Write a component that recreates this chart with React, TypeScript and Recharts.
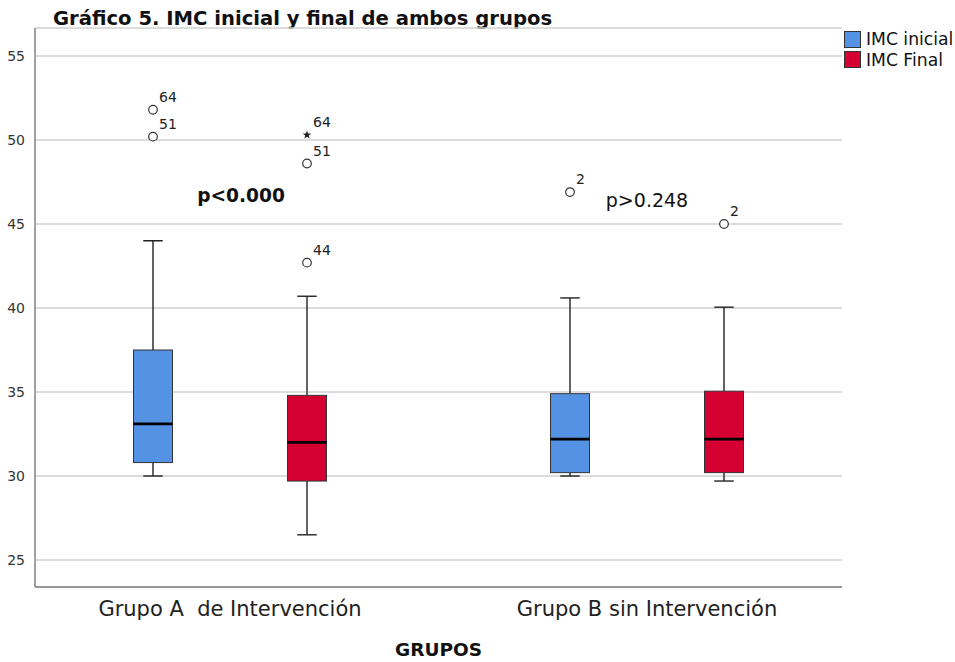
import React from 'react';
import {
  ComposedChart, Bar, XAxis, YAxis, CartesianGrid, Legend, ReferenceDot, Label,
} from 'recharts';

document.body.style.margin = '0';

const groups = ['Grupo A  de Intervención', 'Grupo B sin Intervención'];
const seriesNames = ['IMC inicial', 'IMC Final'];

// [whisker low, Q1, median, Q3, whisker high]
const imcInicial = [
  [30.0, 30.8, 33.1, 37.5, 44.0],
  [30.0, 30.2, 32.2, 34.9, 40.6],
];
const imcFinal = [
  [26.5, 29.7, 32.0, 34.8, 40.7],
  [29.7, 30.2, 32.2, 35.05, 40.05],
];

const outliersInicial = [
  [{ value: 51.8, id: '64', extreme: false }, { value: 50.2, id: '51', extreme: false }],
  [{ value: 46.9, id: '2', extreme: false }],
];
const outliersFinal = [
  [
    { value: 50.3, id: '64', extreme: true },
    { value: 48.6, id: '51', extreme: false },
    { value: 42.7, id: '44', extreme: false },
  ],
  [{ value: 45.0, id: '2', extreme: false }],
];

const yTicks = [25, 30, 35, 40, 45, 50, 55];
const pValues = ['p<0.000', 'p>0.248'];
const pValueY = [46.7, 46.4];

const data = groups.map((g, i) => ({
  group: g,
  inicial: imcInicial[i],
  final: imcFinal[i],
  inicialOut: outliersInicial[i],
  finalOut: outliersFinal[i],
}));

const BLUE = '#5493E3';
const RED = '#D50032';
const FONT = '"DejaVu Sans", sans-serif';

const starPath = (cx: number, cy: number, r: number) => {
  let d = '';
  for (let i = 0; i < 10; i++) {
    const rad = i % 2 === 0 ? r : r * 0.42;
    const a = -Math.PI / 2 + (i * Math.PI) / 5;
    d += (i === 0 ? 'M' : 'L') + (cx + rad * Math.cos(a)) + ',' + (cy + rad * Math.sin(a));
  }
  return d + 'Z';
};

const makeBox = (statKey: 'inicial' | 'final', outKey: 'inicialOut' | 'finalOut') => (props: any) => {
  const { x, y, width, height, payload, fill } = props;
  const [lo, q1, med, q3, hi] = payload[statKey];
  const k = height / (hi - lo);
  const py = (v: number) => y + (hi - v) * k;
  const cx = x + width / 2;
  const cap = width / 4;
  return (
    <g>
      <line x1={cx} x2={cx} y1={py(hi)} y2={py(q3)} stroke="#222" strokeWidth={1.4} />
      <line x1={cx} x2={cx} y1={py(q1)} y2={py(lo)} stroke="#222" strokeWidth={1.4} />
      <line x1={cx - cap} x2={cx + cap} y1={py(hi)} y2={py(hi)} stroke="#222" strokeWidth={1.4} />
      <line x1={cx - cap} x2={cx + cap} y1={py(lo)} y2={py(lo)} stroke="#222" strokeWidth={1.4} />
      <rect x={x} y={py(q3)} width={width} height={py(q1) - py(q3)} fill={fill} stroke="#333" strokeWidth={1} />
      <line x1={x} x2={x + width} y1={py(med)} y2={py(med)} stroke="#000" strokeWidth={2.8} />
      {payload[outKey].map((o: any) => (
        <g key={o.id}>
          {o.extreme ? (
            <path d={starPath(cx, py(o.value), 4.5)} fill="#222" />
          ) : (
            <circle cx={cx} cy={py(o.value)} r={4.3} fill="#fff" stroke="#333" strokeWidth={1.2} />
          )}
          <text x={cx + 6} y={py(o.value) - 8} fontSize={14} fill="#222" fontFamily={FONT}>
            {o.id}
          </text>
        </g>
      ))}
    </g>
  );
};

const XTick = (props: any) => {
  const { x, y, payload } = props;
  return (
    <text x={x} y={y} dy="0.71em" textAnchor="middle" fontSize={21} fill="#222"
      fontFamily={FONT} style={{ whiteSpace: 'pre' }}>
      {payload.value}
    </text>
  );
};

const LegendBox = (props: any) => {
  const items = [...props.payload].sort(
    (a: any, b: any) => seriesNames.indexOf(a.value) - seriesNames.indexOf(b.value),
  );
  return (
    <div style={{ fontFamily: FONT, fontSize: 17.2, color: '#111' }}>
      {items.map((e: any) => (
        <div key={e.value} style={{ display: 'flex', alignItems: 'center', height: 20.5 }}>
          <span style={{ width: 15, height: 15, background: e.color, border: '1px solid #333', marginRight: 5 }} />
          <span>{e.value}</span>
        </div>
      ))}
    </div>
  );
};

const pLabel = (text: string, bold: boolean, dx: number) => (p: any) => {
  const vb = p.viewBox;
  return (
    <text x={vb.x + vb.width / 2 + dx} y={vb.y + vb.height / 2} dy="0.35em" textAnchor="middle"
      fontSize={bold ? 18.6 : 19} fontWeight={bold ? 'bold' : 'normal'} fill="#111" fontFamily={FONT}>
      {text}
    </text>
  );
};

export default function App() {
  return (
    <div style={{ position: 'relative', width: 955, height: 662, background: '#fff' }}>
      <div style={{ position: 'absolute', left: 53, top: 7, fontFamily: FONT, fontWeight: 'bold', fontSize: 19.6, color: '#111', whiteSpace: 'nowrap' }}>
        Gráfico 5. IMC inicial y final de ambos grupos
      </div>
      <ComposedChart width={955} height={662} data={data}
        margin={{ top: 28, right: 113, bottom: 0, left: 0 }} barSize={39} barGap={115}>
        <CartesianGrid vertical={false} stroke="#d0d0d0" strokeWidth={1.5} />
        <XAxis dataKey="group" type="category" height={75} tickLine={false} tickSize={12}
          padding={{ left: -13.5, right: -13.5 }} stroke="#808080" strokeWidth={1.5} tick={<XTick />}>
          <Label value="GRUPOS" position="insideBottom" offset={6} fontSize={18.5} fontWeight="bold"
            fill="#111" fontFamily={FONT} />
        </XAxis>
        <YAxis type="number" domain={[23.393, 56.667]} ticks={yTicks} allowDataOverflow width={35}
          tickLine={false} tickSize={8} tickMargin={2} stroke="#808080" strokeWidth={1.5}
          tick={{ fontSize: 14, fill: '#333', fontFamily: FONT }} />
        <Bar name={seriesNames[0]} dataKey={(d: any) => [d.inicial[0], d.inicial[4]]} fill={BLUE}
          shape={makeBox('inicial', 'inicialOut')} isAnimationActive={false} />
        <Bar name={seriesNames[1]} dataKey={(d: any) => [d.final[0], d.final[4]]} fill={RED}
          shape={makeBox('final', 'finalOut')} isAnimationActive={false} />
        {groups.map((g, i) => (
          <ReferenceDot key={g} x={g} y={pValueY[i]} r={0} fill="none" stroke="none"
            label={pLabel(pValues[i], i === 0, i === 0 ? 11 : 0)} />
        ))}
        <Legend layout="vertical" align="center" verticalAlign="middle" content={LegendBox}
          wrapperStyle={{ top: 29, left: 844, width: 111, height: 44 }} />
      </ComposedChart>
    </div>
  );
}
